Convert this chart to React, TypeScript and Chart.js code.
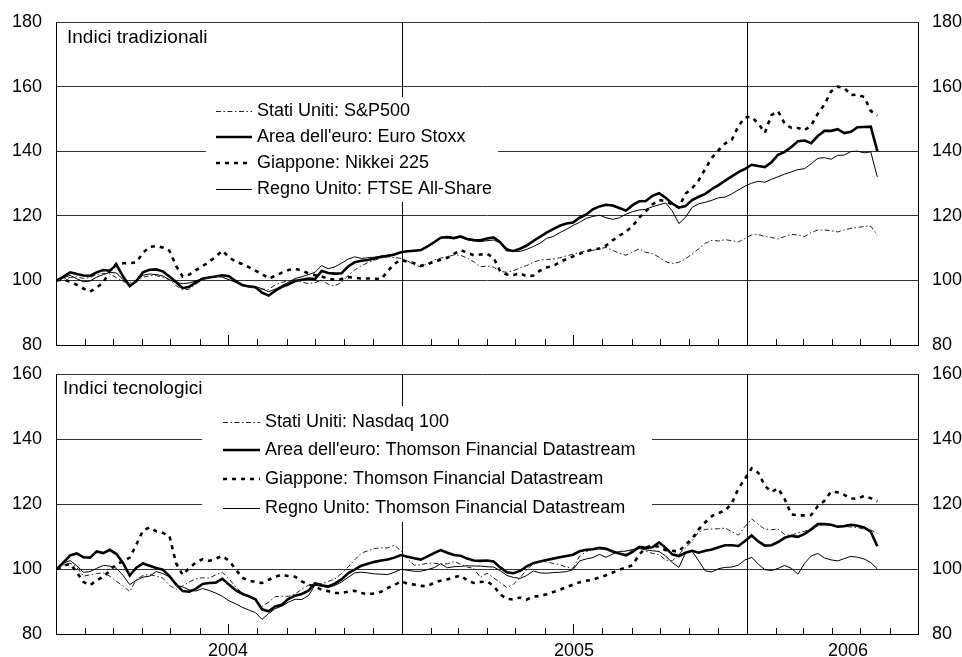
import { useEffect, useRef } from 'react';
import { Chart, registerables } from 'chart.js';

Chart.register(...registerables);

const FONT = "'Liberation Sans', Arial, Helvetica, sans-serif";
const W = 962;

// ---------- time axis (days counted from 1 January 2004) ----------
// weekly observations starting 2 January 2004
const weekDays: number[] = Array.from({ length: 125 }, (_, i) => 1 + 7 * i);
const axisEndDay = 912; // 1 July 2006
const yearLabels = ['2004', '2005', '2006'];
const yearLabelDays = [182, 548, 838];
const yearStartDays = [366, 731];

// ---------- Indici tradizionali ----------
const spx500 = [
  100, 100.4, 100.9, 101.1, 100.6, 100.9, 101.8, 102.2, 102, 100.8,
  99.6, 99.2, 99.5, 101, 101.4, 101.5, 101, 100.2, 98.4, 97.1,
  97.3, 98.8, 100.3, 101, 101.3, 101.1, 100.2, 99.4, 98.3, 97.9,
  97.7, 97.3, 97.2, 98.6, 99.4, 99.8, 100.2, 99.5, 99, 99.3,
  100.1, 98.8, 98.3, 99.4, 101.5,
  103.2, 104.5, 105.5, 106.3, 106.9, 107.3, 107.1, 106.8, 106, 104.8,
  104.2, 105.2, 106.3, 106.9, 107.3, 107.9, 107.8, 106.9, 105.8, 104.2,
  104.5, 104.1, 102.8, 102.5, 103, 103.9, 104.6, 105.6, 106.3, 106.5,
  106.6, 107, 107.6, 108.1, 108.7, 109.1, 109.3, 109.8, 110.2, 109.3,
  108.4, 107.8, 108.8, 109.8, 108.7, 108.3, 107.2, 105.8, 105.2, 105.6,
  106.6, 108.2, 109.8, 111.5, 112.4, 112.2, 112.6, 112.3, 111.9, 113,
  114.1, 114.2, 113.6, 113.3, 112.8, 113.6, 114.3, 114, 113.6, 114.8,
  115.6, 115.6, 115.4, 115, 115.7, 116.1, 116.4, 116.7, 116.8, 114,
];
const euroStoxx = [
  100, 101.2, 102.5, 102, 101.5, 101.4, 102.5, 103.2, 103, 104.8,
  101.2, 98.2, 99.8, 102.5, 103.3, 103.4, 102.8, 101.2, 99.5, 97.6,
  98, 99.4, 100.5, 100.9, 101.2, 101.6, 101.3, 99.8, 98.6, 98.1,
  97.9, 96.2, 95.3, 96.8, 98, 98.8, 99.8, 100.2, 100.6, 100.4,
  102.9, 102.3, 102.1, 102.2, 104.3, 105.6,
  106.1, 106.3, 106.8, 107.3, 107.6, 108.0, 108.7, 109.0, 109.2, 109.4,
  110.5, 111.8, 113.2, 113.4, 113.1, 113.6, 112.8, 112.5, 112.4, 113.0,
  113.3, 111.8, 109.4, 109.1, 109.8, 110.8, 112.2, 113.5, 114.8, 115.9,
  116.9, 117.6, 117.9, 119.4, 120.4, 122.0, 122.9, 123.4, 123.2, 122.4,
  121.6, 123.3, 124.5, 124.6,
  126.2, 127.0, 125.6, 123.8, 122.5, 123.0, 124.9, 125.9, 126.8, 128.3,
  129.5, 130.9, 132.2, 133.5, 134.5, 135.8, 135.4, 135.1, 136.6, 138.9,
  139.8, 141.3, 143.1, 143.3, 142.5, 144.7, 146.3, 146.3, 146.8, 145.6,
  146.0, 147.4, 147.5, 147.6, 140.0,
];
const nikkei225 = [
  100, 100.3, 99.6, 98.6, 97.5, 96.5, 97.8, 99.3, 103, 105.2,
  105.3, 105.3, 105.6, 108.5, 110.4, 110.6, 110.2, 109.2, 104.5, 101.2,
  101.8, 103.2, 104.4, 105.8, 107.3, 109.2, 107.2, 105.8, 105.1, 104.1,
  103, 102, 100.6, 101.4, 102.4, 103.2, 103.6, 103, 102.2, 101.6,
  101.2, 100.5, 100.2, 100.4, 101, 100.8, 100.6, 100.6, 100.5, 100.4,
  102.8, 105.2, 106.3, 105.8, 105.3, 104.5, 105, 105.8, 106.4, 107,
  108.2, 109.4, 108.6, 107.8, 108, 108.2, 107, 102.8, 101.8, 101.7,
  102.2, 101.2, 101.5, 103, 104, 104.5, 105.7, 106.6, 107.4, 108.2,
  109, 109.6, 109.9, 110.8, 112.4, 113.8, 115.1, 116.8, 119.4, 121.4,
  123.5, 124.9, 124.5, 123.5, 122.6, 126.8, 128.5, 131, 134.5, 138,
  140.3, 142.4, 143.5, 147.8, 150.5, 150.6, 148.6, 145.7, 151.2, 152.4,
  148.5, 147.2, 147.2, 146.5, 148, 151.6, 154.5, 158.5, 160, 159.6,
  157.4, 157.5, 156.8, 152.5, 151,
];
const ftseAllShare = [
  100, 100.8, 101.6, 100.5, 99.6, 99.8, 101, 101.8, 102.5, 102.3,
  100.2, 98.3, 99.8, 101.6, 102, 101.8, 101.4, 100.2, 99.3, 99,
  99.2, 99.8, 100.6, 101, 101.3, 101, 100.2, 99.4, 98.5, 98.3,
  98.1, 97.4, 96.5, 97.3, 98.4, 99.4, 100.6, 101.1, 101.8, 102.5,
  104.6, 103.6, 104.2, 105.3, 106.6, 107.3,
  106.8, 107, 107.2, 107.5, 107.8, 108.1, 108.6, 109, 109.2, 109.3,
  110.3, 111.6, 113.3, 113.6, 113.2, 113.4, 112.6, 112.2, 112, 112.3,
  112.5, 111.6, 110.0, 109, 109, 109.6, 110.5, 111.5, 113, 113.6,
  114.8, 115.8, 117, 118, 119.2, 119.8, 120.2, 119.4, 118.9, 119.4,
  120.5, 121.3, 121.8, 122.0,
  122.8, 123.4, 124, 121.5, 117.6, 119.5, 122.6, 123.7, 124.2, 124.8,
  125.6, 125.8, 126.8, 128, 129.2, 130.1, 130.7, 130.4, 131.3, 132.1,
  132.9, 133.6, 134.3, 134.6, 136.1, 137.8, 138, 137.5, 138.7, 138.8,
  139.9, 140, 139.5, 139.8, 132,
];

// ---------- Indici tecnologici ----------
const nasdaq100 = [
  100, 101.2, 101.8, 100.5, 97.8, 98.2, 98.6, 98.8, 97.8, 96.2,
  94.8, 93, 96.8, 98, 98.3, 97.8, 97.2, 95, 93.7, 94.8,
  96, 97, 97.3, 97.2, 98.2, 99, 97, 94.5, 92.6, 91.6,
  90.6, 88.5, 89.8, 91.5, 91.6, 91.6, 92.3, 93.8, 95, 95.2,
  95.5, 96.2, 96.9, 98.6, 100.6, 102.8, 104.9, 105.6, 106.3, 106.5,
  106.5, 107.3, 105.6, 103, 101.2, 101.3, 101.8, 101.8, 101.5, 101.6,
  102.3, 101.5, 100.6, 100.2, 97.4, 98.7, 97.3, 95.8, 94.3, 95.3,
  97.3, 99.8, 101.6, 102.3, 102.2, 101.7, 101.3, 100.6, 100.2, 104,
  105.3, 106.4, 106.2, 105.9, 105.2, 104.6, 104.5, 106, 106.8, 105.5,
  104.8, 104.4, 102.8, 102.5, 104.5, 106.5, 108.6, 111.4, 112.2, 112.3,
  112.4, 112.6, 111.5, 110.4, 113.1, 115.4, 113.8, 112.2, 112.1, 112.3,
  110.6, 110.3, 111.2, 111.6, 112.4, 113.2, 113.6, 113.6, 113.3, 113.2,
  112.9, 112.8, 112.2, 112, 111,
];
const euroTech = [
  100, 102, 104.2, 104.8, 103.6, 103.5, 105.4, 104.9, 105.9, 104.6,
  101.8, 98, 100.4, 101.7, 101, 100.3, 99.8, 97.8, 95.3, 93.2,
  93, 93.9, 95.4, 95.7, 95.8, 97, 95.2, 93.5, 92.4, 91.6,
  90.7, 87.6, 87, 88.5, 89, 90.8, 91.8, 92.3, 93.3, 95.6,
  95, 94.6, 95.5, 96.8, 98.7, 99.8, 101, 101.6, 102.2, 102.6,
  102.9, 103.5, 104.3, 103.8, 103.3, 102.9, 103.9, 104.9, 105.8, 105,
  104.3, 104.1, 103.2, 102.6, 102.5, 102.6, 102.3, 100.5, 99, 98.7,
  99.4, 100.8, 101.8, 102.3, 102.8, 103.2, 103.6, 104, 104.4, 105.5,
  105.9, 106.1, 106.5, 106.2, 105.4, 104.8, 104.2, 105.3, 106.8, 106.5,
  106.7, 108.2, 106.5, 104.5, 104, 105, 105.6, 105, 105.6, 106,
  106.7, 107.3, 107.3, 107.1, 108.6, 110.3, 108.5, 107.2, 107.3, 108.3,
  109.6, 110.2, 109.9, 110.8, 112.2, 113.8, 113.8, 113.6, 113, 113.2,
  113.6, 113.3, 112.8, 111.5, 107,
];
const japanTech = [
  100, 101, 101.6, 99, 96, 95, 96.5, 97.6, 99.5, 101.6,
  102.3, 103.5, 107.5, 111.8, 112.8, 111.6, 111.1, 110.2, 101.8, 98.2,
  100.3, 102, 103, 102.5, 103.2, 104, 102.5, 100, 97.3, 96.4,
  96, 95.7, 96.7, 97.6, 98.3, 97.8, 97.6, 96.2, 95.2, 94.6,
  93.6, 93.2, 92.6, 92.6, 93, 93.3, 92.6, 92.2, 92.5, 93,
  94.2, 95, 96.2, 95.5, 95.2, 94.8, 94.7, 95.8, 96.4, 96.8,
  97.4, 98, 96.5, 95.7, 96, 96.2, 94.8, 92.2, 90.8, 90.6,
  91.2, 90.6, 91.5, 91.7, 92.2, 92.9, 93.6, 94.4, 95.2, 95.9,
  96.4, 96.7, 97.4, 98.1, 98.9, 99.8, 100.4, 101.2, 104.4, 106.6,
  107.3, 106.8, 105.8, 105.6, 105.4, 107.5, 109.3, 112.2, 114.4, 116.3,
  117.2, 118, 120.2, 124.8, 127.8, 131, 129.6, 125.6, 123.7, 124.8,
  121.5, 116.8, 116.5, 116.5, 116.6, 119.3, 121, 123.8, 123.6, 122.8,
  121.7, 121.6, 122.5, 121.8, 120.8,
];
const ukTech = [
  100, 101.8, 102.6, 101, 99, 99.2, 100.2, 101.1, 100.9, 100.2,
  98, 95.2, 96.5, 97.5, 97.8, 99.2, 98.6, 97.6, 95, 94.5,
  93.6, 93.2, 94, 93.4, 92.6, 91.6, 90.2, 89.3, 88.2, 87.4,
  86.6, 84.5, 86.3, 87.8, 88.6, 89.8, 90.7, 90.6, 91.8, 95,
  94.7, 94.4, 94.9, 96, 97.4, 98.8, 99, 98.8, 98.5, 98.4,
  98.3, 99, 99.9, 99.6, 99.3, 99.3, 99.8, 100.4, 101.6, 100.4,
  100.7, 100.8, 101, 100.9, 100.9, 100.7, 100.6, 99.5, 98, 97.4,
  97.1, 98, 99.4, 98.8, 98.7, 98.9, 99, 99.2, 99.8, 102.5,
  103.1, 103.5, 104.5, 103.6, 104.6, 105.4, 105.5, 106, 106.3, 105.9,
  105.6, 105.4, 104, 102, 100.5, 104.9, 105.5, 102.5, 99.4, 99.1,
  100.1, 100.5, 100.6, 101.2, 102.8, 103.6, 101.5, 99.8, 99.5, 100.2,
  101.1, 100.2, 98.4, 101.8, 104, 104.8, 103.4, 102.8, 102.5, 103.2,
  103.9, 103.6, 103.1, 102, 100,
];

const topLegend = ['Stati Uniti: S&P500', "Area dell'euro: Euro Stoxx", 'Giappone: Nikkei 225', 'Regno Unito: FTSE All-Share'];
const bottomLegend = [
  'Stati Uniti: Nasdaq 100',
  "Area dell'euro: Thomson Financial Datastream",
  'Giappone: Thomson Financial Datastream',
  'Regno Unito: Thomson Financial Datastream',
];

type LineStyle = { color: string; width: number; dash: number[] };
const styleUS: LineStyle = { color: '#222', width: 1, dash: [5, 2.5, 1.5, 2.5] };
const styleEU: LineStyle = { color: '#000', width: 2.6, dash: [] };
const styleJP: LineStyle = { color: '#000', width: 2.6, dash: [4, 5] };
const styleUK: LineStyle = { color: '#000', width: 1, dash: [] };
const styles = [styleUS, styleEU, styleJP, styleUK];
const drawOrder = [0, 3, 2, 1];

const dayOf = (m: number) => Math.round((Date.UTC(2004, m, 1) - Date.UTC(2004, 0, 1)) / 86400000);
const monthTicks: { day: number; mid: boolean }[] = [];
for (let k = 1; k < 30; k++) {
  if (k % 12 === 0) continue;
  monthTicks.push({ day: dayOf(k), mid: k % 12 === 6 });
}

const frameMarks = {
  id: 'frameMarks',
  beforeDatasetsDraw(chart: any) {
    const { ctx, chartArea: a, scales } = chart;
    const x = scales.x;
    ctx.save();
    ctx.strokeStyle = '#000';
    ctx.lineWidth = 1;
    ctx.setLineDash([]);
    ctx.beginPath();
    for (const t of monthTicks) {
      const px = Math.round(x.getPixelForValue(t.day)) + 0.5;
      ctx.moveTo(px, a.bottom);
      ctx.lineTo(px, a.bottom - (t.mid ? 10 : 6));
    }
    for (const d of yearStartDays) {
      const px = Math.round(x.getPixelForValue(d)) + 0.5;
      ctx.moveTo(px, a.top);
      ctx.lineTo(px, a.bottom);
    }
    ctx.stroke();
    ctx.restore();
  },
};

type LegendSpec = {
  box: [number, number, number, number];
  rows: number[];
  sx1: number;
  sx2: number;
  tx: number;
  labels: string[];
  title: string;
  titleX: number;
  titleY: number;
};

function overlay(spec: LegendSpec) {
  return {
    id: 'overlay',
    afterDatasetsDraw(chart: any) {
      const ctx = chart.ctx as CanvasRenderingContext2D;
      ctx.save();
      const [bx, by, bw, bh] = spec.box;
      ctx.fillStyle = '#fff';
      ctx.fillRect(bx, by, bw, bh);
      ctx.font = `18px ${FONT}`;
      ctx.textBaseline = 'middle';
      ctx.textAlign = 'left';
      spec.labels.forEach((lab, k) => {
        const st = styles[k];
        const y = Math.round(spec.rows[k]) + (st.width === 1 ? 0.5 : 0);
        ctx.strokeStyle = st.color;
        ctx.lineWidth = st.width;
        ctx.setLineDash(st.dash);
        ctx.beginPath();
        ctx.moveTo(spec.sx1, y);
        ctx.lineTo(spec.sx2, y);
        ctx.stroke();
        ctx.setLineDash([]);
        ctx.fillStyle = '#000';
        ctx.fillText(lab, spec.tx, spec.rows[k]);
      });
      ctx.font = `19px ${FONT}`;
      ctx.textBaseline = 'alphabetic';
      ctx.fillText(spec.title, spec.titleX, spec.titleY);
      ctx.restore();
    },
  };
}

type PanelProps = {
  top: number;
  height: number;
  padTop: number;
  xHeight: number;
  showX: boolean;
  yMin: number;
  yMax: number;
  series: number[][];
  legend: LegendSpec;
};

function Panel(p: PanelProps) {
  const ref = useRef<HTMLCanvasElement>(null);
  useEffect(() => {
    const tickFont = { family: FONT, size: 18 };
    const datasets = drawOrder.map((k) => ({
      label: p.legend.labels[k],
      data: weekDays.map((d, i) => ({ x: d, y: p.series[k][i] })),
      borderColor: styles[k].color,
      borderWidth: styles[k].width,
      borderDash: styles[k].dash,
      pointRadius: 0,
      tension: 0,
      fill: false,
    }));
    const fixY = (w: number) => (s: any) => {
      s.width = w;
      s.paddingTop = 0;
      s.paddingBottom = 0;
    };
    const chart = new Chart(ref.current as HTMLCanvasElement, {
      type: 'line',
      data: { datasets },
      options: {
        responsive: false,
        maintainAspectRatio: false,
        animation: false,
        layout: { padding: { top: p.padTop, left: 0, right: 0, bottom: 0 } },
        plugins: { legend: { display: false }, tooltip: { enabled: false }, title: { display: false } },
        scales: {
          x: {
            type: 'linear',
            min: 0,
            max: axisEndDay,
            grid: { display: false, drawTicks: false },
            border: { display: true, color: '#000', width: 1 },
            afterBuildTicks: (s: any) => {
              s.ticks = yearLabelDays.map((v) => ({ value: v }));
            },
            ticks: {
              display: p.showX,
              autoSkip: false,
              maxRotation: 0,
              minRotation: 0,
              padding: 6,
              color: '#000',
              font: tickFont,
              callback: (v: any) => {
                const k = yearLabelDays.indexOf(Number(v));
                return k >= 0 ? yearLabels[k] : '';
              },
            },
            afterFit: (s: any) => {
              s.height = p.xHeight;
              s.paddingLeft = 0;
              s.paddingRight = 0;
            },
          },
          y: {
            position: 'left',
            min: p.yMin,
            max: p.yMax,
            ticks: { stepSize: 20, padding: 14, color: '#000', font: tickFont },
            grid: { color: '#333', lineWidth: 1, drawTicks: false },
            border: { display: true, color: '#000', width: 1 },
            afterFit: fixY(56),
          },
          y2: {
            position: 'right',
            min: p.yMin,
            max: p.yMax,
            ticks: { stepSize: 20, padding: 14, color: '#000', font: tickFont },
            grid: { display: false, drawTicks: false },
            border: { display: true, color: '#000', width: 1 },
            afterFit: fixY(44),
          },
        },
      } as any,
      plugins: [frameMarks, overlay(p.legend)],
    });
    return () => chart.destroy();
  }, []);
  return (
    <canvas
      ref={ref}
      width={W}
      height={p.height}
      style={{ position: 'absolute', left: 0, top: p.top, width: W, height: p.height }}
    />
  );
}

export default function App() {
  return (
    <div style={{ position: 'absolute', left: 0, top: 0, width: W, height: 657, background: '#fff', overflow: 'hidden' }}>
      <Panel
        top={0}
        height={360}
        padTop={22}
        xHeight={15}
        showX={false}
        yMin={80}
        yMax={180}
        series={[spx500, euroStoxx, nikkei225, ftseAllShare]}
        legend={{
          box: [206, 97, 292, 105],
          rows: [111, 137, 163, 189],
          sx1: 216,
          sx2: 252,
          tx: 257,
          labels: topLegend,
          title: 'Indici tradizionali',
          titleX: 67,
          titleY: 43,
        }}
      />
      <Panel
        top={360}
        height={297}
        padTop={14}
        xHeight={23}
        showX={true}
        yMin={80}
        yMax={160}
        series={[nasdaq100, euroTech, japanTech, ukTech]}
        legend={{
          box: [202, 46, 450, 116],
          rows: [62, 90, 119, 148],
          sx1: 223,
          sx2: 260,
          tx: 265,
          labels: bottomLegend,
          title: 'Indici tecnologici',
          titleX: 63,
          titleY: 34,
        }}
      />
    </div>
  );
}
